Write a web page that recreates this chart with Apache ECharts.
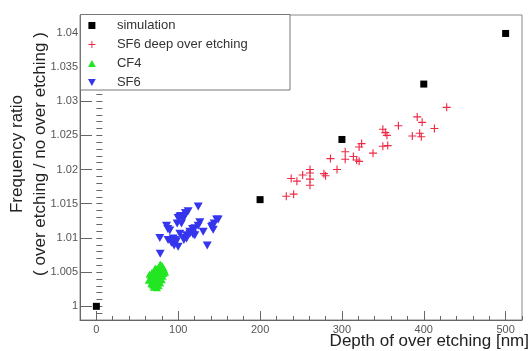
<!DOCTYPE html>
<html><head><meta charset="utf-8">
<script src="https://cdn.jsdelivr.net/npm/echarts@6/dist/echarts.min.js"></script>
<style>html,body{margin:0;padding:0;background:#fff}#c{width:531px;height:351px}</style>
</head><body><div id="c"></div>
<script>
// ---- data ----
const seriesNames = ['simulation', 'SF6 deep over etching', 'CF4', 'SF6'];

const simX = [0, 200, 300, 400, 500];
const simY = [1.0000, 1.0156, 1.0244, 1.0325, 1.0399];

const deepX = [232,241,238,245,252,261,261,261,261,278,280,286,294,304,304,314,318,321,321,324,338,350,356,350,353,355,369,386,392,398,395,397,413,428];
const deepY = [1.0161,1.0164,1.0187,1.0183,1.0192,1.0200,1.0195,1.0186,1.0177,1.0194,1.0191,1.0216,1.0200,1.0226,1.0215,1.0219,1.0214,1.0212,1.0233,1.0238,1.0224,1.0234,1.0235,1.0259,1.0254,1.0250,1.0264,1.0249,1.0277,1.0269,1.0253,1.0248,1.0260,1.0291];

const cf4X = [66,67,68,68,69,69,70,70,71,71,72,72,73,73,74,74,75,75,76,76,77,77,78,78,79,79,80,80,81,81,82,82,83,70,74,76,67,72,78,84,65,64];
const cf4Y = [1.0040,1.0045,1.0036,1.0050,1.0042,1.0031,1.0047,1.0038,1.0034,1.0052,1.0044,1.0029,1.0040,1.0048,1.0036,1.0055,1.0043,1.0031,1.0050,1.0038,1.0046,1.0058,1.0041,1.0034,1.0053,1.0047,1.0039,1.0060,1.0051,1.0044,1.0056,1.0048,1.0053,1.0028,1.0027,1.0030,1.0033,1.0056,1.0062,1.0050,1.0047,1.0038];

const sf6X = [77.5,85.7,87.3,87.6,91.8,93.8,95,97.9,99.9,98.7,99.9,102,104,102,106,108,109.3,112.1,108,110.2,106.9,114.2,117.5,118.2,120.3,124.4,126.4,124.4,130.5,135.4,140.8,142.7,142,143.9,146.9,148.8,89.7,95.8,120.3,110.2,114.2,103.2,108.9,78];
const sf6Y = [1.0100,1.0118,1.0113,1.0097,1.0093,1.0099,1.0089,1.0095,1.0087,1.0121,1.0129,1.0131,1.0121,1.0106,1.0128,1.0132,1.0136,1.0139,1.0100,1.0104,1.0097,1.0109,1.0113,1.0105,1.0114,1.0118,1.0123,1.0146,1.0109,1.0089,1.0116,1.0112,1.0118,1.0121,1.0127,1.0127,1.0111,1.0097,1.0104,1.0099,1.0106,1.0132,1.0136,1.0077];

const xTicks = [0, 100, 200, 300, 400, 500];
const xTickLabels = ['0', '100', '200', '300', '400', '500'];
const yTicks = [1, 1.005, 1.01, 1.015, 1.02, 1.025, 1.03, 1.035, 1.04];
const yTickLabels = ['1', '1.005', '1.01', '1.015', '1.02', '1.025', '1.03', '1.035', '1.04'];

const xTitle = 'Depth of over etching [nm]';
const yTitle1 = 'Frequency ratio';
const yTitle2 = '( over etching / no over etching )';

// ---- build ----
const zip = (a, b) => a.map((v, i) => [v, b[i]]);
const xMinor = []; for (let k = -1; k <= 26; k++) xMinor.push(k * 20);
const yMinor = []; for (let k = -2; k <= 42; k++) yMinor.push(+(1 + k * 0.001).toFixed(4));
const FF = '"Liberation Sans", Arial, Helvetica, sans-serif';
const lab = (ticks, labels) => v => { const i = ticks.findIndex(t => Math.abs(t - v) < 1e-7); return i >= 0 ? labels[i] : ''; };

const XMIN = -20, XMAX = 520, YMIN = 0.998, YMAX = 1.0426;
const axisGray = '#666';

const chart = echarts.init(document.getElementById('c'), null, { renderer: 'canvas' });
chart.setOption({
  animation: false,
  backgroundColor: '#fff',
  grid: { left: 80, right: 9, top: 15, bottom: 31, show: true, borderColor: '#888', borderWidth: 1, containLabel: false, outerBoundsMode: 'none' },
  xAxis: [
    { type: 'value', min: XMIN, max: XMAX, position: 'bottom',
      axisLine: { show: true, onZero: false, lineStyle: { color: axisGray, width: 1 } },
      axisTick: { show: true, inside: true, length: 9, customValues: xTicks, lineStyle: { color: axisGray } },
      axisLabel: { customValues: xTicks, formatter: lab(xTicks, xTickLabels), color: '#555', fontSize: 11, margin: 4, fontFamily: FF },
      splitLine: { show: false } },
    { type: 'value', min: XMIN, max: XMAX, position: 'bottom',
      axisLine: { show: false },
      axisTick: { show: true, inside: true, length: 4, customValues: xMinor, lineStyle: { color: axisGray } },
      axisLabel: { show: false }, splitLine: { show: false } }
  ],
  yAxis: [
    { type: 'value', min: YMIN, max: YMAX, position: 'left',
      axisLine: { show: true, onZero: false, lineStyle: { color: axisGray, width: 1 } },
      axisTick: { show: true, inside: true, length: 12, customValues: yTicks, lineStyle: { color: axisGray } },
      axisLabel: { customValues: yTicks, formatter: lab(yTicks, yTickLabels), color: '#555', fontSize: 11, margin: 2, fontFamily: FF },
      splitLine: { show: false } },
    { type: 'value', min: YMIN, max: YMAX, position: 'left',
      axisLine: { show: false },
      axisTick: { show: true, inside: true, length: 6, customValues: yMinor, lineStyle: { color: axisGray } },
      axisLabel: { show: false }, splitLine: { show: false } }
  ],
  legend: {
    orient: 'vertical', left: 88, top: 18, padding: 0,
    itemWidth: 40, itemHeight: 7, itemGap: 4, selectedMode: false, z: 6,
    data: seriesNames,
    textStyle: { fontSize: 13, color: '#333', fontFamily: FF, lineHeight: 15 }
  },
  graphic: [
    { type: 'rect', z: 5, shape: { x: 80.5, y: 14.5, width: 209.5, height: 75.5 },
      style: { fill: '#fff', stroke: '#777', lineWidth: 1 } },
    { type: 'text', x: 17, y: 154, rotation: Math.PI / 2,
      style: { text: yTitle1, x: 0, y: 0, align: 'center', verticalAlign: 'middle', fontSize: 17, fontFamily: FF, fill: '#222' } },
    { type: 'text', x: 40, y: 154, rotation: Math.PI / 2,
      style: { text: yTitle2, x: 0, y: 0, align: 'center', verticalAlign: 'middle', fontSize: 17, fontFamily: FF, fill: '#222' } },
    { type: 'text', x: 529, y: 341,
      style: { text: xTitle, x: 0, y: 0, align: 'right', verticalAlign: 'middle', fontSize: 17, fontFamily: FF, fill: '#222' } }
  ],
  series: [
    { name: seriesNames[0], type: 'scatter', data: zip(simX, simY), symbol: 'path://M0,0H10V10H0Z', symbolSize: 7, itemStyle: { color: '#000', opacity: 1 }, z: 4 },
    { name: seriesNames[1], type: 'scatter', data: zip(deepX, deepY),
      symbol: 'path://M4.3,0H5.7V4.3H10V5.7H5.7V10H4.3V5.7H0V4.3H4.3Z', symbolSize: 8, itemStyle: { color: '#ee2a45', opacity: 1 } },
    { name: seriesNames[2], type: 'scatter', data: zip(cf4X, cf4Y),
      symbol: 'path://M5,0L10,9L0,9Z', symbolSize: [8, 7], itemStyle: { color: '#22e622', opacity: 1 } },
    { name: seriesNames[3], type: 'scatter', data: zip(sf6X, sf6Y),
      symbol: 'path://M0,0L10,0L5,9Z', symbolSize: [9, 8], itemStyle: { color: '#3535ee', opacity: 1 } }
  ]
});
</script></body></html>
